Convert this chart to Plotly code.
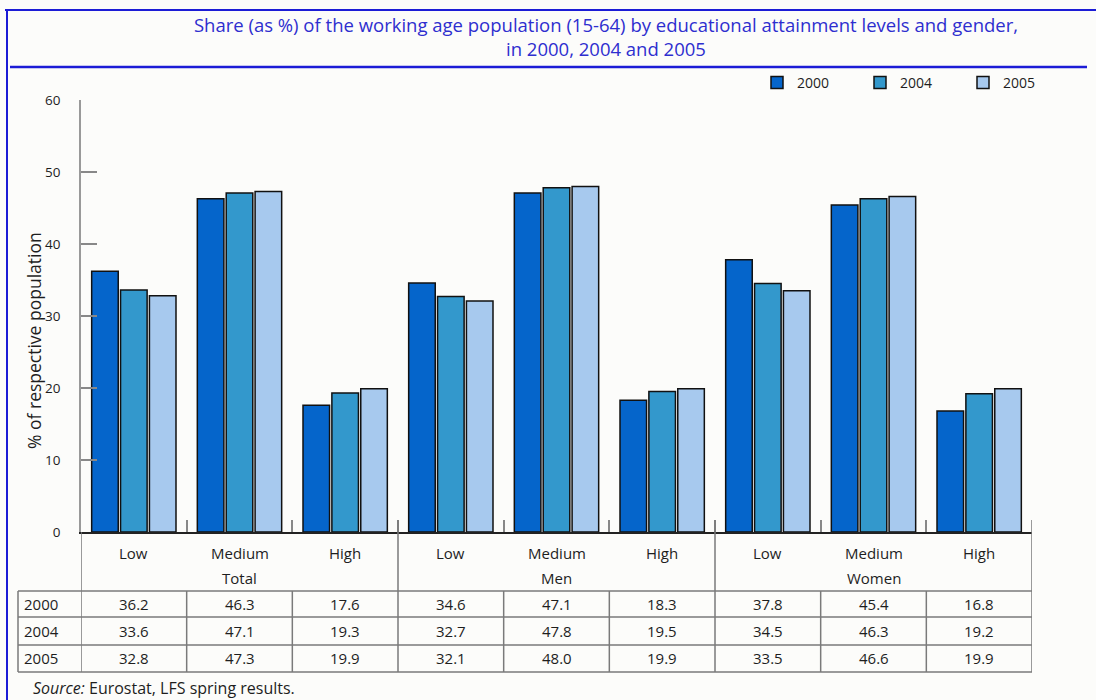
import plotly.graph_objects as go

groups = ["Total", "Men", "Women"]
levels = ["Low", "Medium", "High"]
years = ["2000", "2004", "2005"]
v2000 = [36.2, 46.3, 17.6, 34.6, 47.1, 18.3, 37.8, 45.4, 16.8]
v2004 = [33.6, 47.1, 19.3, 32.7, 47.8, 19.5, 34.5, 46.3, 19.2]
v2005 = [32.8, 47.3, 19.9, 32.1, 48.0, 19.9, 33.5, 46.6, 19.9]
yticks = [0, 10, 20, 30, 40, 50, 60]

title_line1 = "Share (as %) of the working age population (15-64) by educational attainment levels and gender,"
title_line2 = "in 2000, 2004 and 2005"
ytitle = "% of respective population"
source = "<i>Source:</i> Eurostat, LFS spring results."

colors = ["#0565CB", "#3398CC", "#A7C9EE"]
series = [v2000, v2004, v2005]

cats = [f"{g} {l}" for g in groups for l in levels]

W, H = 1096, 700
L, R, T, B = 81, 1032, 100, 532
PW, PH = R - L, B - T


def px(x):
    return (x - L) / PW


def py(y):
    return (B - y) / PH


FONT = "Open Sans"
TXT = "#1e1e1e"
TITLE_C = "#2e2ecf"
fig = go.Figure()
for yr, vals, c in zip(years, series, colors):
    fig.add_trace(go.Bar(x=cats, y=vals, name=yr, marker=dict(color=c, line=dict(color="#111111", width=1.5))))

fig.update_layout(
    width=W, height=H,
    margin=dict(l=L, r=W - R, t=T, b=H - B, autoexpand=False),
    paper_bgcolor="#fcfcfa", plot_bgcolor="#fcfcfa",
    barmode="group", bargap=0.18, bargroupgap=0.08,
    font=dict(family=FONT, size=13, color=TXT),
    title=dict(text=title_line1, x=px(606), xref="paper", xanchor="center", y=1 - 26 / H, yanchor="middle",
               font=dict(family=FONT, size=18.5, color=TITLE_C)),
    showlegend=True,
    legend=dict(orientation="h", x=px(757), xanchor="left", y=py(83), yanchor="middle", entrywidth=58,
                font=dict(size=14), bgcolor="rgba(0,0,0,0)", itemwidth=30, traceorder="normal"),
    xaxis=dict(showticklabels=False, ticks="inside", tickson="boundaries", ticklen=12, tickcolor="#888888",
               tickwidth=1.5, showline=True, linecolor="#222222", linewidth=1.5, showgrid=False, range=[-0.5, 8.5]),
    yaxis=dict(range=[0, 60], tickvals=yticks, ticks="inside", ticklen=16, tickcolor="#888888", tickwidth=1.5,
               showline=True, linecolor="#999999", linewidth=1.5, showgrid=False, zeroline=False,
               ticklabelstandoff=16, tickfont=dict(size=13.5)),
)

shapes = []
line_c = "#7a7a7a"


def hline(x0, x1, y, color=line_c, w=1.5, xref="paper"):
    shapes.append(dict(type="line", xref=xref, yref="paper", x0=x0, x1=x1, y0=py(y), y1=py(y),
                       line=dict(color=color, width=w)))


def vline(x, y0, y1, xref="x", color=line_c, w=1.5):
    shapes.append(dict(type="line", xref=xref, yref="paper", x0=x, x1=x, y0=py(y0), y1=py(y1),
                       line=dict(color=color, width=w)))


# table horizontal lines
for yy in [591, 617, 645, 672]:
    hline(px(18), 1.0, yy)
# table vertical lines
vline(px(18), 591, 672, xref="paper")
vline(-0.5, 532, 672)
for i in range(len(cats)):
    right = i + 0.5
    if (i + 1) % 3 == 0:
        vline(right, 520, 672)
    else:
        vline(right, 591, 672)

# blue frame
blue = "#1c1cd6"
shapes.append(dict(type="line", xref="paper", yref="paper", x0=px(5), x1=px(1096), y0=py(10), y1=py(10),
                   line=dict(color=blue, width=2)))
shapes.append(dict(type="line", xref="paper", yref="paper", x0=px(7), x1=px(7), y0=py(10), y1=py(700),
                   line=dict(color=blue, width=2)))
shapes.append(dict(type="line", xref="paper", yref="paper", x0=px(10), x1=px(1087), y0=py(67), y1=py(67),
                   line=dict(color=blue, width=2.5)))
fig.update_layout(shapes=shapes)

TF = 15
ann = []
ann.append(dict(x=px(606), xref="paper", y=py(49), yref="paper", text=title_line2, showarrow=False,
                font=dict(size=18.5, color=TITLE_C), xanchor="center", yanchor="middle"))
for i, c in enumerate(cats):
    ann.append(dict(x=c, xref="x", y=py(553), yref="paper", text=levels[i % 3], showarrow=False,
                    font=dict(size=TF), yanchor="middle"))
for gi, g in enumerate(groups):
    ann.append(dict(x=cats[gi * 3 + 1], xref="x", y=py(578), yref="paper", text=g, showarrow=False,
                    font=dict(size=TF), yanchor="middle"))
row_y = [604, 631, 658]
for yr, vals, ry in zip(years, series, row_y):
    ann.append(dict(x=px(22), xref="paper", xanchor="left", y=py(ry), yref="paper", text=yr, showarrow=False,
                    font=dict(size=TF), yanchor="middle"))
    for c, v in zip(cats, vals):
        ann.append(dict(x=c, xref="x", y=py(ry), yref="paper", text=f"{v:.1f}", showarrow=False,
                        font=dict(size=TF), yanchor="middle"))
ann.append(dict(x=px(34), xref="paper", y=py(341), yref="paper", text=ytitle, textangle=-90, showarrow=False,
                font=dict(size=17.5), xanchor="center", yanchor="middle"))
ann.append(dict(x=px(31), xref="paper", xanchor="left", y=py(688), yref="paper", text=source, showarrow=False,
                font=dict(size=16), yanchor="middle"))
fig.update_layout(annotations=ann)

fig.write_html("out.html")
